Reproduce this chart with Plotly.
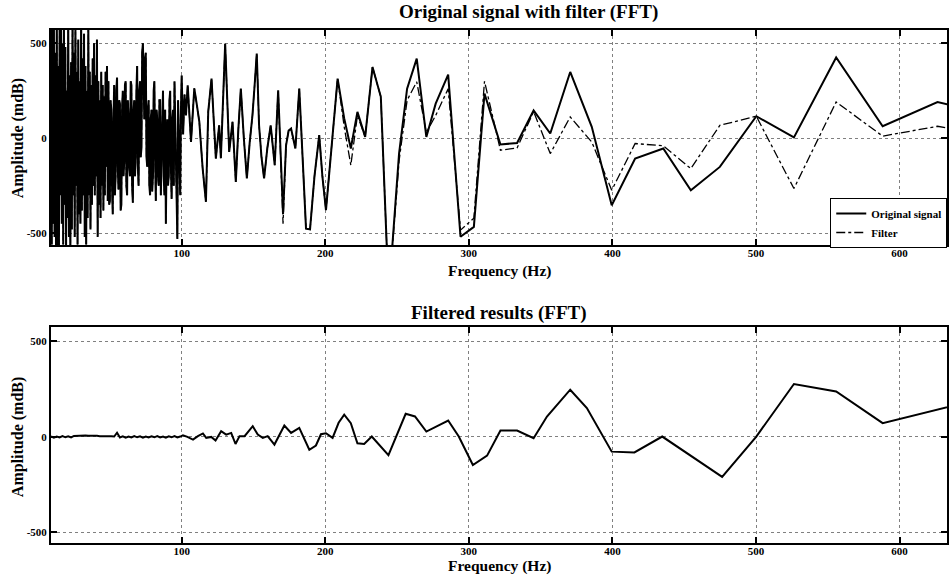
import plotly.graph_objects as go

# ---------------- data ----------------
# Top panel: dense low-frequency part, 9..49.5 Hz (0.5 Hz grid)
low_freq_a = [9 + 0.5 * i for i in range(82)]
low_amp_a = [580, -560, 620, -450, 600, -520, 450, -600, 640, -580,
             380, -620, 580, -300, 620, -450, 500, -560, 600, -350,
             480, -580, 250, -420, 650, -520, 330, -600, 400, -480,
             620, -300, 450, -520, 600, -250, 350, -560, 520, -400,
             300, -450, 620, -380, 420, -300, 550, -520, 380, -560,
             250, -420, 600, -300, 350, -480, 280, -350, 420, -250,
             500, -300, 330, -200, 520, -520, 300, -350, 200, -420,
             350, -250, 280, -380, 220, -300, 350, -150, 380, -330,
             300, -350]
# 50..100 Hz (0.5 Hz grid)
low_freq_b = [50 + 0.5 * i for i in range(101)]
low_amp_b = [-330, 200, 150, -250, -400, 100, 280, -300, -200, 250,
             320, -150, -270, 200, 180, -380, -350, 150, 250, -200,
             -120, 280, 300, -250, -300, 200, 120, -150, -200, 300,
             280, -250, -340, 150, 200, -200, -100, 250, 380, -150,
             -250, 250, 300, -100, -50, 450, 500, 300, 100, 420,
             450, -100, -150, 150, 200, -250, -300, 100, 150, -280,
             -200, 250, 300, -100, -330, 150, 100, -200, -250, 200,
             200, -300, -150, 100, 250, -200, -300, 150, -450, -100,
             100, -250, -200, 200, 250, -150, -320, 100, 150, -250,
             300, 100, -100, -400, -530, 200, 50, -250, -300, 150,
             330]

# Top panel: sparser part above 100 Hz
mid_freq = [101, 102, 103, 104.2, 106.5, 108.8, 110.5, 112.3, 114.6, 116.9,
            118.5, 120.8, 122.3, 123.8, 126.1, 127.3, 130.3, 131.8, 133.1, 135.4,
            137.7, 139.5, 141.2, 143.3, 145.4, 147.4, 149.3, 151, 152.3, 153.9,
            155.6, 157.4, 159.7, 162, 164.8, 167.2, 170.6, 172.7, 174.5, 176.2,
            179.2, 181.9, 184.3, 186.6, 189.4, 192.5, 195.8, 198, 200.5, 204.5,
            208.6, 213.2, 217.8, 222.4, 227.8, 232.9, 236.3, 238.7, 243, 246,
            249, 251.4, 257, 263.7, 270.4, 276.9, 285.6, 294.2, 303.5, 310.9,
            322, 333.6, 345.1, 356.7, 370.6, 385.6, 399.5, 415.8, 435.4, 454.6,
            474.8, 500.2, 526.4, 555.8, 588.2, 626.4, 660]
mid_orig = [20, 230, 120, 279, -19, 263, 180, 86, -158, -335,
            139, 314, 100, -107, 68, -105, 498, 200, -72, 86,
            -230, 50, 261, 0, -212, -20, 121, 300, 446, 68,
            -100, -212, -50, 68, -142, 253, -400, -37, 40, 51,
            -54, 261, -100, -476, -480, -200, 16, -200, -379, -50,
            314, 104, -54, 139, 7, 375, 288, 218, -600, -640,
            -330, -81, 261, 419, 7, 182, 335, -519, -467, 235,
            -33, -25, 147, 25, 349, 60, -353, -107, -54, -274,
            -151, 116, 4, 425, 63, 191, 130]
mid_filt = [20, 230, 120, 279, -19, 263, 180, 86, -158, -335,
            139, 314, 100, -107, 68, -105, 498, 200, -72, 86,
            -230, 50, 261, 0, -212, -20, 121, 300, 446, 68,
            -100, -212, -50, 68, -142, 253, -450, -37, 40, 51,
            -54, 261, -100, -476, -480, -200, 16, -200, -379, -50,
            314, 60, -142, 120, 7, 375, 288, 218, -600, -640,
            -360, -120, 200, 297, 30, 120, 261, -484, -421, 300,
            -63, -51, 140, -81, 112, -20, -274, -28, -40, -160,
            68, 116, -265, 191, 11, 63, 20]

top_freq = low_freq_a + low_freq_b + mid_freq
original_signal = low_amp_a + low_amp_b + mid_orig
filter_signal = low_amp_a + low_amp_b + mid_filt

# Bottom panel: filtered result
res_low_freq = list(range(9, 101, 2))
res_low_amp = [3, -4, 2, -3, 4, -2, 3, -3, 5, 6,
               7, 5, 8, 6, 7, 5, 6, 4, 5, 3,
               4, 3, 2, 22, -3, 3, -4, 2, -3, 4,
               -2, 3, -4, 2, -3, 3, -2, 4, -3, 2,
               -4, 3, -2, 4, -3, 2]
res_mid_freq = [100.9, 104, 107.9, 111.3, 114.8, 117.1, 120.6, 123.6, 127.5, 131,
                134.5, 137.5, 140.3, 143.8, 149.5, 153, 156.5, 159.9, 164.6, 171.5,
                176.2, 181.9, 188.9, 193.5, 197, 200.5, 205.1, 209.3, 213.2, 217.8,
                222.4, 227.1, 232.4, 244, 250.2, 256, 262.5, 270.4, 285.6, 293,
                302.8, 312.7, 322, 333.6, 345.1, 354.4, 370.6, 382.2, 399.5, 415.3,
                434.7, 476.4, 500.2, 526.4, 555.8, 588.2, 660]
res_mid_amp = [8, 0, -14, 4, 18, -5, 0, -19, 30, 12,
               21, -37, 4, 4, 56, 12, -5, 4, -40, 60,
               21, 47, -67, -45, 14, 19, -5, 74, 116, 72,
               -33, -37, 2, -95, 19, 121, 107, 28, 86, 2,
               -147, -98, 33, 33, -7, 107, 247, 151, -77, -81,
               2, -209, 2, 277, 238, 72, 205]
res_freq = res_low_freq + res_mid_freq
res_amp = res_low_amp + res_mid_amp

x_ticks = [100, 200, 300, 400, 500, 600]
y_ticks = [-500, 0, 500]
y_ticktext = ["-500", "0", "500"]

# ---------------- figure ----------------
SERIF = "Liberation Serif"
fig = go.Figure()
fig.add_trace(go.Scatter(x=top_freq, y=original_signal, mode="lines",
                         name="Original signal", line=dict(color="black", width=2),
                         xaxis="x", yaxis="y"))
fig.add_trace(go.Scatter(x=top_freq, y=filter_signal, mode="lines",
                         name="Filter", line=dict(color="black", width=1.3, dash="dashdot"),
                         xaxis="x", yaxis="y"))
fig.add_trace(go.Scatter(x=res_freq, y=res_amp, mode="lines", showlegend=False,
                         line=dict(color="black", width=2), xaxis="x2", yaxis="y2"))

xtickfont = dict(family=SERIF, size=11, color="black", weight="bold")
ytickfont = dict(family=SERIF, size=11, color="black", weight="bold")
common_x = dict(range=[9, 633], tickvals=x_ticks, ticks="inside", ticklen=6, tickwidth=1.5,
                tickcolor="black", showline=True, linecolor="black", linewidth=2,
                mirror="ticks", showgrid=True, gridcolor="#808080", gridwidth=1,
                griddash="dot", zeroline=False, tickfont=xtickfont, ticklabelstandoff=-3)
common_y = dict(tickvals=y_ticks, ticktext=y_ticktext, ticks="inside", ticklen=6, tickwidth=1.5,
                tickcolor="black", showline=True, linecolor="black", linewidth=2,
                mirror="ticks", showgrid=True, gridcolor="#808080", gridwidth=1,
                griddash="dot", zeroline=False, tickfont=ytickfont)

fig.update_layout(
    width=949, height=576,
    margin=dict(l=51, r=0, t=30, b=33),
    paper_bgcolor="white", plot_bgcolor="white",
    xaxis=dict(domain=[0, 1], anchor="y", **common_x),
    yaxis=dict(domain=[0.581, 1], anchor="x", range=[-562, 570], **common_y),
    xaxis2=dict(domain=[0, 1], anchor="y2", **common_x),
    yaxis2=dict(domain=[0, 0.421], anchor="x2", range=[-555, 575], **common_y),
    legend=dict(x=0.8697, y=0.6725, xanchor="left", yanchor="top",
                bordercolor="black", borderwidth=1, bgcolor="white",
                font=dict(family=SERIF, size=11, color="black", weight="bold"),
                itemwidth=30, tracegroupgap=0),
    showlegend=True,
)

title_font = dict(family=SERIF, size=19, color="black", weight="bold")
label_font = dict(family=SERIF, size=16, color="black", weight="bold")
xlabel_font = dict(family=SERIF, size=15.5, color="black", weight="bold")
annots = [
    dict(text="Original signal with filter (FFT)", x=0.533, y=1.035, font=title_font),
    dict(text="Filtered results (FFT)", x=0.5, y=0.448, font=title_font),
    dict(text="Frequency (Hz)", x=0.5, y=0.531, font=xlabel_font),
    dict(text="Frequency (Hz)", x=0.5, y=-0.044, font=xlabel_font),
]
for a in annots:
    fig.add_annotation(text=a["text"], x=a["x"], y=a["y"], xref="paper", yref="paper",
                       xanchor="center", yanchor="middle", showarrow=False, font=a["font"])
for yy in [0.789, 0.2066]:
    fig.add_annotation(text="Amplitude (mdB)", x=-0.0367, y=yy, xref="paper", yref="paper",
                       xanchor="center", yanchor="middle", showarrow=False, textangle=-90,
                       font=label_font)

fig.write_html("out.html", config={"displayModeBar": False},
               post_script="document.body.style.margin='0';document.body.style.overflow='hidden';")
